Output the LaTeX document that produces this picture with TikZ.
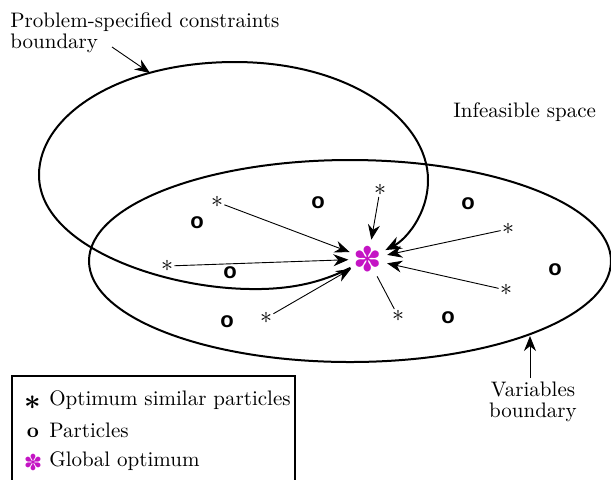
\documentclass[tikz,border=0pt]{standalone}
\usepackage{fontspec}
\usepackage{amsmath}
\usepackage{amssymb}
\usetikzlibrary{arrows.meta,positioning}
\newfontfamily\symbfont{DejaVu Sans}
\newfontfamily\markfont{Liberation Sans}
\definecolor{optMagenta}{HTML}{C414C4}
\tikzset{
  boundLine/.style={line width=1pt, draw=black},
  simArrow/.style={-{Stealth[length=7.5pt,width=6pt]}, line width=0.45pt},
  plainLine/.style={line width=0.45pt},
  starMark/.style={inner sep=0.5pt, font=\large},
  particleMark/.style={inner sep=0pt, font=\markfont\bfseries\fontsize{11}{11}\selectfont},
  optMark/.style={circle, inner sep=0pt, minimum size=16pt, text=optMagenta, font=\symbfont\fontsize{17}{17}\selectfont},
  labelText/.style={font=\fontsize{10.5}{10.5}\selectfont, inner sep=0pt, align=left}
}

\begin{document}
\begin{tikzpicture}[x=0.5pt,y=-0.5pt]
  \useasboundingbox (0,0) rectangle (611,479);
  \clip (0,0) rectangle (611,479);
  % variables boundary
  \draw[boundLine] (350,261) ellipse [x radius=261, y radius=101];
  % global optimum
  \node[optMark] (G) at (368,259) {✽};
  % constraints boundary, a loop through the optimum
  \draw[boundLine, -{Stealth[length=8pt,width=6.5pt]}] (G)
    .. controls (330,278) and (300,290) .. (250,289)
    .. controls (160,288) and (39,245) .. (39,175)
    .. controls (39,115) and (120,62) .. (235,62)
    .. controls (350,62) and (428,120) .. (428,180)
    .. controls (428,215) and (405,240) .. (G);
  % optimum similar particles
  \foreach \x/\y [count=\i] in {217/202,380/190,167/266,266/318,398/316,508/229,506/290}
    \node[starMark] (s\i) at (\x,\y) {$\ast$};
  \foreach \i in {1,2,3,4,6,7}
    \draw[simArrow] (s\i) -- (G);
  \draw[plainLine] (s5) -- (G);
  % particles
  \foreach \x/\y [count=\i] in {197/223,318/203,468/204,230/273,555/270,227/322,448/318}
    \node[particleMark] (p\i) at (\x,\y) {o};
  % labels
  \node[labelText, anchor=north west] (plabel) at (10,12) {Problem-specified constraints\\boundary};
  \coordinate (ptail) at (112,47);
  \coordinate (ptip) at (150,73);
  \draw[simArrow] (ptail) -- (ptip);
  \node[labelText, anchor=base west] (ilabel) at (453,117) {Infeasible space};
  \node[labelText, align=center, anchor=north, inner sep=2pt] (vlabel) at (533,378) {Variables\\boundary};
  \coordinate (vtip) at (530,336);
  \draw[simArrow] (vlabel.north -| vtip) -- (vtip);
  % legend
  \draw[line width=0.6pt] (12,376) rectangle (295,520);
  \node[starMark, font=\Large\boldmath] (legStar) at (33,403) {$\ast$};
  \node[labelText, anchor=base west] (legStarText) at (49,405) {Optimum similar particles};
  \node[inner sep=0pt, font=\fontsize{10.5}{10.5}\selectfont\bfseries] (legDot) at (33,433) {o};
  \node[labelText, anchor=base west] (legDotText) at (49,437) {Particles};
  \node[optMark, font=\symbfont\fontsize{11}{11}\selectfont, minimum size=0pt] (legOpt) at (33,462) {✽};
  \node[labelText, anchor=base west] (legOptText) at (49,466) {Global optimum};
\end{tikzpicture}
\end{document}
